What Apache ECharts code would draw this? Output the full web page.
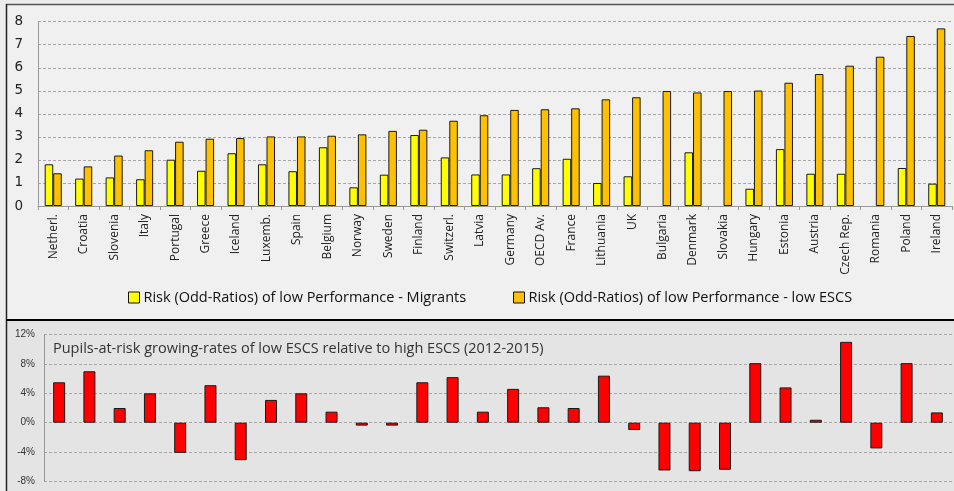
<!DOCTYPE html>
<html>
<head>
<meta charset="utf-8">
<title>Risk of low performance</title>
<script src="https://cdn.jsdelivr.net/npm/echarts@6/dist/echarts.min.js"></script>
<style>
  html, body { margin: 0; padding: 0; }
  #main { width: 954px; height: 491px; }
</style>
</head>
<body>
<div id="main"></div>
<script>
// 国家名
const countries = ['Netherl.', 'Croatia', 'Slovenia', 'Italy', 'Portugal', 'Greece', 'Iceland', 'Luxemb.', 'Spain', 'Belgium',
  'Norway', 'Sweden', 'Finland', 'Switzerl.', 'Latvia', 'Germany', 'OECD Av.', 'France', 'Lithuania', 'UK',
  'Bulgaria', 'Denmark', 'Slovakia', 'Hungary', 'Estonia', 'Austria', 'Czech Rep.', 'Romania', 'Poland', 'Ireland']
// 移民的低成绩风险 (没有数据的用 null)
const riskMigrants = [1.81, 1.19, 1.24, 1.16, 2.01, 1.53, 2.29, 1.81, 1.51, 2.55,
  0.81, 1.36, 3.08, 2.11, 1.37, 1.37, 1.64, 2.05, 1.00, 1.29,
  null, 2.33, null, 0.75, 2.47, 1.40, 1.40, null, 1.65, 0.97]
// 低ESCS的低成绩风险
const riskLowEscs = [1.42, 1.72, 2.19, 2.42, 2.79, 2.92, 2.95, 3.02, 3.02, 3.05,
  3.11, 3.26, 3.31, 3.70, 3.94, 4.17, 4.20, 4.24, 4.63, 4.72,
  4.99, 4.93, 4.99, 5.01, 5.35, 5.73, 6.09, 6.48, 7.38, 7.71]
// 增长率 (%)
const growthRates = [5.5, 7.0, 2.0, 4.0, -4.1, 5.1, -5.1, 3.1, 4.0, 1.5,
  -0.4, -0.4, 5.5, 6.2, 1.5, 4.6, 2.1, 2.0, 6.4, -1.0,
  -6.5, -6.6, -6.4, 8.1, 4.8, 0.4, 11.0, -3.5, 8.1, 1.4]

const nameMigrants = 'Risk (Odd-Ratios) of low Performance - Migrants'
const nameLowEscs = 'Risk (Odd-Ratios) of low Performance - low ESCS'
const bottomTitle = 'Pupils-at-risk growing-rates of low ESCS relative to high ESCS (2012-2015)'

const chartInstance = echarts.init(document.getElementById('main'))

const gridLine = { show: true, lineStyle: { color: '#a8a8a8', type: [3, 2], width: 1 } }
const barBorder = { borderColor: '#1a1a1a', borderWidth: 1 }

// 图例样式 (两个图例分开放)
const legendBase = {
  padding: 0,
  top: 290,
  itemWidth: 11,
  itemHeight: 11,
  itemGap: 5,
  icon: 'rect',
  itemStyle: { borderColor: '#111', borderWidth: 1 },
  textStyle: { fontSize: 14.5, color: '#111', fontFamily: 'Open Sans', padding: [0, 0, 0, -1] }
}

const option = {
  backgroundColor: '#ececec',
  animation: false,
  textStyle: { fontFamily: 'Open Sans' },
  // 两个面板的背景和边框
  graphic: [
    { type: 'rect', z: -10, shape: { x: 6, y: 5, width: 960, height: 315 }, style: { fill: '#f1f0f0' } },
    { type: 'rect', z: -10, shape: { x: 6, y: 320, width: 960, height: 180 }, style: { fill: '#e4e4e4' } },
    { type: 'line', z: -5, shape: { x1: 6, y1: 4.5, x2: 954, y2: 4.5 }, style: { stroke: '#555', lineWidth: 1.5 } },
    { type: 'line', z: -5, shape: { x1: 6.5, y1: 4, x2: 6.5, y2: 491 }, style: { stroke: '#222', lineWidth: 1.5 } },
    { type: 'line', z: -5, shape: { x1: 6, y1: 320, x2: 954, y2: 320 }, style: { stroke: '#000', lineWidth: 2 } },
    {
      type: 'text', left: 53, top: 341,
      style: { text: bottomTitle, fill: '#333', font: '14.5px "Open Sans"' }
    }
  ],
  legend: [
    Object.assign({ data: [nameMigrants], left: 128 }, legendBase),
    Object.assign({ data: [nameLowEscs], left: 513 }, legendBase)
  ],
  grid: [
    { left: 38, right: 2, top: 21.7, bottom: 285 },
    { left: 44, right: 2, top: 334.5, bottom: 9.5 }
  ],
  xAxis: [
    {
      gridIndex: 0,
      type: 'category',
      data: countries,
      axisLine: { lineStyle: { color: '#999' } },
      axisTick: { show: true, length: 4, lineStyle: { color: '#999' } },
      axisLabel: { rotate: 90, interval: 0, margin: 8, fontSize: 12, color: '#222' }
    },
    {
      gridIndex: 1,
      type: 'category',
      data: countries,
      show: false
    }
  ],
  yAxis: [
    {
      gridIndex: 0,
      type: 'value',
      min: 0,
      max: 8,
      interval: 1,
      axisLine: { show: true, lineStyle: { color: '#999' } },
      axisTick: { show: false },
      splitLine: gridLine,
      axisLabel: { margin: 15, fontSize: 13.5, color: '#222', fontFamily: 'DejaVu Sans' }
    },
    {
      gridIndex: 1,
      type: 'value',
      min: -8,
      max: 12,
      interval: 4,
      axisLine: { show: true, lineStyle: { color: '#999' } },
      axisTick: { show: false },
      splitLine: gridLine,
      axisLabel: { margin: 9, fontSize: 10, color: '#333', fontFamily: 'Liberation Sans', formatter: '{value}%' }
    }
  ],
  series: [
    {
      name: nameMigrants,
      type: 'bar',
      xAxisIndex: 0,
      yAxisIndex: 0,
      data: riskMigrants,
      barGap: '0%',
      barCategoryGap: '44%',
      itemStyle: Object.assign({ color: '#ffff00' }, barBorder)
    },
    {
      name: nameLowEscs,
      type: 'bar',
      xAxisIndex: 0,
      yAxisIndex: 0,
      data: riskLowEscs,
      barGap: '0%',
      barCategoryGap: '44%',
      itemStyle: Object.assign({ color: '#ffc000' }, barBorder)
    },
    {
      name: 'growth',
      type: 'bar',
      xAxisIndex: 1,
      yAxisIndex: 1,
      data: growthRates,
      barWidth: 12,
      itemStyle: Object.assign({ color: '#ff0000' }, barBorder)
    }
  ]
}

chartInstance.setOption(option)
</script>
</body>
</html>
